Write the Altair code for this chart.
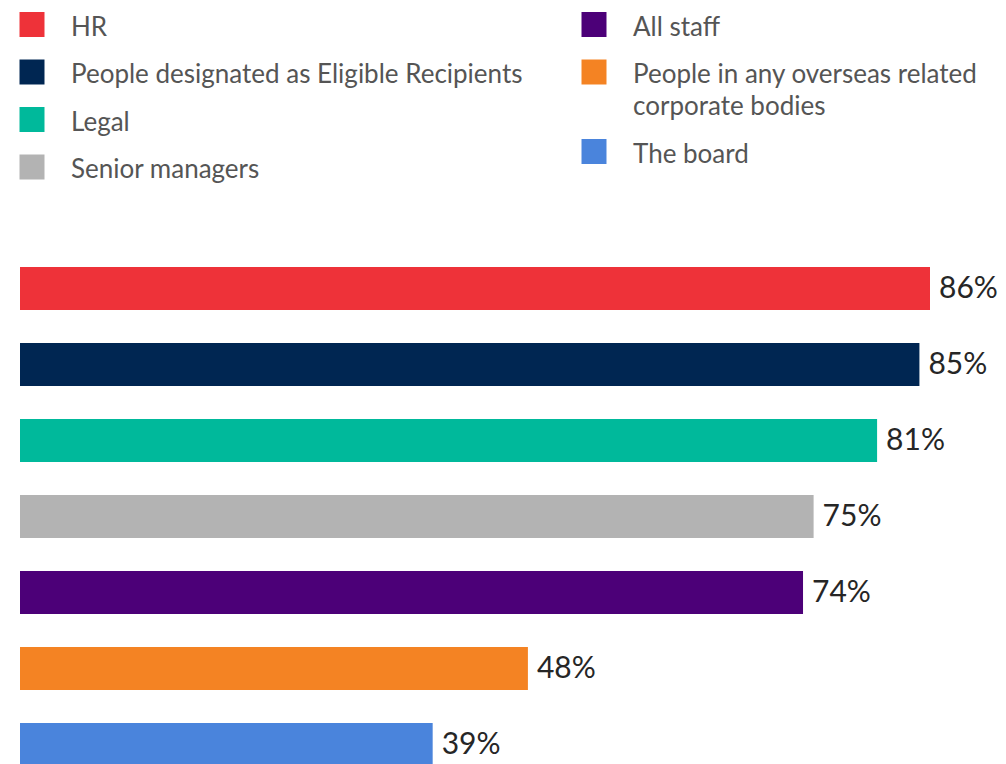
import altair as alt
import pandas as pd

categories = [
    "HR",
    "People designated as Eligible Recipients",
    "Legal",
    "Senior managers",
    "All staff",
    "People in any overseas related|corporate bodies",
    "The board",
]
values = [86, 85, 81, 75, 74, 48, 39]
value_labels = ["86%", "85%", "81%", "75%", "74%", "48%", "39%"]
colors = ["#EE3239", "#002652", "#00B99B", "#B3B3B3", "#4C0078", "#F48323", "#4A84DC"]
legend_group = ["left", "left", "left", "left", "right", "right", "right"]

df = pd.DataFrame({
    "category": categories,
    "value": values,
    "label": value_labels,
    "group": legend_group,
})

left_cats = [c for c, g in zip(categories, legend_group) if g == "left"]
left_cols = [c for c, g in zip(colors, legend_group) if g == "left"]
right_cats = [c for c, g in zip(categories, legend_group) if g == "right"]
right_cols = [c for c, g in zip(colors, legend_group) if g == "right"]

FONT = "Lato"

y_enc = alt.Y("category:N", scale=alt.Scale(domain=categories, paddingInner=33 / 76, paddingOuter=16.5 / 76), axis=None)
x_enc = alt.X("value:Q", scale=alt.Scale(domain=[0, 86], nice=False, zero=True), axis=None)

def legend(x, y):
    return alt.Legend(
        title=None, orient="none", legendX=x, legendY=y, direction="vertical",
        symbolType="square", symbolSize=625, symbolStrokeWidth=0,
        labelFont=FONT, labelFontSize=26, labelColor="#555555", labelLimit=800,
        labelOffset=26, rowPadding=18.5, padding=0,
        labelExpr="split(datum.label, '|')",
    )

base = alt.Chart(df)

left = base.transform_filter(alt.datum.group == "left").mark_bar().encode(
    x=x_enc, y=y_enc,
    color=alt.Color("category:N", scale=alt.Scale(domain=left_cats, range=left_cols), legend=legend(-1, -239)),
)
right = base.transform_filter(alt.datum.group == "right").mark_bar().encode(
    x=x_enc, y=y_enc,
    fill=alt.Fill("category:N", scale=alt.Scale(domain=right_cats, range=right_cols), legend=legend(561, -239)),
)
text = base.mark_text(align="left", baseline="middle", dx=9, font=FONT, fontSize=30, color="#262626").encode(
    x=x_enc, y=y_enc, text="label:N"
)

chart = alt.layer(left, right, text).properties(
    width=910, height=532,
    padding={"left": 12, "top": 242.5, "right": 68, "bottom": 0},
    autosize=alt.AutoSizeParams(type="none"),
    background="white",
).configure(
    view={"stroke": "transparent"},
    style={"guide-label": {"lineHeight": 32, "dy": 3}},
)

chart.save("out.html", embed_options={"renderer": "svg", "actions": False})
